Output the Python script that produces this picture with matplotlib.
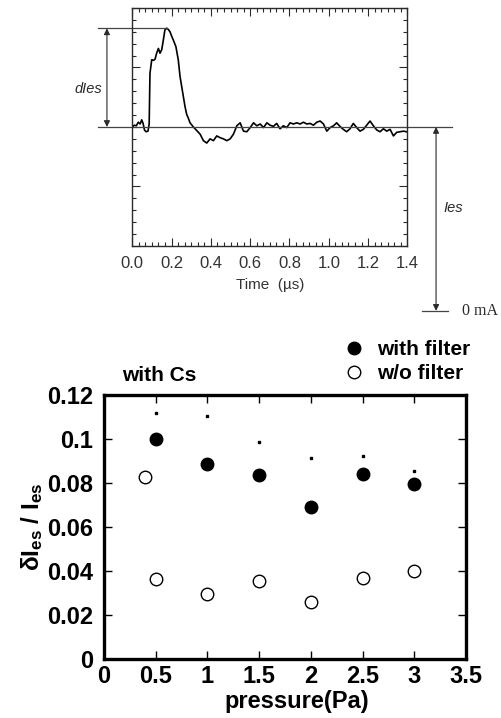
import matplotlib
matplotlib.use("Agg")
import matplotlib.pyplot as plt
from matplotlib.ticker import MultipleLocator, AutoMinorLocator

plt.rcParams["font.family"] = ["Liberation Sans", "DejaVu Sans"]
plt.rcParams["mathtext.fontset"] = "custom"
plt.rcParams["mathtext.bf"] = "Liberation Sans:bold"
plt.rcParams["mathtext.rm"] = "Liberation Sans:bold"
plt.rcParams["mathtext.default"] = "bf"

# --- upper panel: electron saturation current trace (arbitrary divisions) ---
time_us = [
    0.000, 0.010, 0.020, 0.031, 0.040, 0.048, 0.055, 0.062, 0.070, 0.080,
    0.086, 0.090, 0.099, 0.108, 0.116, 0.124, 0.133, 0.141, 0.150, 0.158,
    0.166, 0.175, 0.183, 0.192, 0.200, 0.209, 0.222, 0.234, 0.243, 0.257,
    0.268, 0.277, 0.285, 0.294, 0.311, 0.328, 0.345, 0.362, 0.379, 0.396,
    0.413, 0.430, 0.447, 0.464, 0.481, 0.498, 0.515, 0.532, 0.549, 0.566,
    0.583, 0.600, 0.617, 0.634, 0.651, 0.668, 0.685, 0.701, 0.718, 0.735,
    0.752, 0.769, 0.786, 0.803, 0.820, 0.837, 0.854, 0.871, 0.888, 0.905,
    0.922, 0.939, 0.956, 0.973, 0.990, 1.007, 1.024, 1.040, 1.057, 1.074,
    1.091, 1.108, 1.125, 1.142, 1.159, 1.176, 1.193, 1.210, 1.227, 1.244,
    1.261, 1.278, 1.295, 1.312, 1.329, 1.346, 1.363, 1.380, 1.395,
]
ies_signal = [
    0.00, 0.03, 0.02, 0.08, 0.05, 0.12, 0.06, -0.05, -0.08, -0.07,
    0.05, 0.90, 1.13, 1.12, 1.14, 1.24, 1.32, 1.24, 1.30, 1.46,
    1.63, 1.66, 1.64, 1.60, 1.53, 1.46, 1.35, 1.13, 0.85, 0.57,
    0.35, 0.21, 0.15, 0.07, 0.00, -0.06, -0.12, -0.23, -0.27, -0.20,
    -0.23, -0.15, -0.18, -0.20, -0.23, -0.20, -0.12, 0.02, 0.07, -0.07,
    -0.08, -0.01, 0.07, 0.02, 0.05, -0.01, 0.07, 0.03, 0.01, 0.06,
    -0.03, 0.02, -0.01, 0.07, 0.05, 0.07, 0.05, 0.08, 0.05, 0.06,
    0.03, 0.08, 0.10, 0.05, -0.07, -0.01, 0.02, 0.07, 0.01, -0.04,
    -0.08, -0.03, 0.06, -0.01, -0.07, -0.04, 0.03, 0.10, 0.02, -0.05,
    -0.08, -0.03, -0.07, -0.04, -0.15, -0.09, -0.08, -0.07, -0.08,
]
time_ticks = [0.0, 0.2, 0.4, 0.6, 0.8, 1.0, 1.2, 1.4]
peak_level = 1.657
zero_ma_level = -3.09

# --- lower panel: fluctuation ratio vs pressure ---
pressure_filter = [0.5, 1.0, 1.5, 2.0, 2.5, 3.0]
ratio_filter = [0.100, 0.0886, 0.0835, 0.0691, 0.0842, 0.0794]
ratio_marks = [0.112, 0.1106, 0.0984, 0.0914, 0.0923, 0.0856]
pressure_nofilter = [0.4, 0.5, 1.0, 1.5, 2.0, 2.5, 3.0]
ratio_nofilter = [0.0826, 0.0364, 0.0295, 0.0353, 0.0260, 0.0367, 0.0401]
pressure_ticks = [0, 0.5, 1, 1.5, 2, 2.5, 3, 3.5]
pressure_labels = ["0", "0.5", "1", "1.5", "2", "2.5", "3", "3.5"]
ratio_ticks = [0, 0.02, 0.04, 0.06, 0.08, 0.10, 0.12]
ratio_labels = ["0", "0.02", "0.04", "0.06", "0.08", "0.1", "0.12"]

fig = plt.figure(figsize=(5.02, 7.18), dpi=100)

scan = "#2a2a2a"
ax1 = fig.add_axes([0.2635, 0.6574, 0.548, 0.3315])
ax1.plot(time_us, ies_signal, color="black", lw=1.2)
ax1.set_xlim(0, 1.4)
ax1.set_ylim(-2, 2)
ax1.set_xticks(time_ticks)
ax1.set_xticklabels([f"{t:.1f}" for t in time_ticks])
ax1.xaxis.set_minor_locator(AutoMinorLocator(6))
ax1.yaxis.set_major_locator(MultipleLocator(1))
ax1.yaxis.set_minor_locator(AutoMinorLocator(5))
ax1.tick_params(which="both", direction="in", top=True, right=True,
                labelleft=False, color=scan, width=0.8)
ax1.tick_params(which="major", length=6)
ax1.tick_params(which="minor", length=3)
ax1.tick_params(axis="x", labelsize=12, labelcolor="#333333", pad=7)
for s in ax1.spines.values():
    s.set_color(scan)
    s.set_linewidth(1.0)
ax1.set_xlabel("Time  (µs)", fontsize=11, color="#333333", labelpad=5)

# reference lines and arrows around the trace
ax1.plot([-0.174, 1.628], [0, 0], color="#444444", lw=0.9, clip_on=False)
ax1.plot([-0.174, 0.175], [peak_level, peak_level], color="#444444", lw=0.9, clip_on=False)
ax1.plot([1.474, 1.609], [zero_ma_level, zero_ma_level], color="#444444", lw=0.9, clip_on=False)
arrow = dict(arrowstyle="<|-|>", color=scan, lw=0.8, mutation_scale=9, shrinkA=0, shrinkB=0)
ax1.annotate("", xy=(-0.129, peak_level), xytext=(-0.129, 0), arrowprops=arrow,
             annotation_clip=False)
ax1.annotate("", xy=(1.546, 0), xytext=(1.546, zero_ma_level), arrowprops=arrow,
             annotation_clip=False)
ax1.text(-0.225, 0.645, "dIes", fontsize=10.5, style="italic", color=scan,
         ha="center", va="center", clip_on=False)
ax1.text(1.633, -1.37, "Ies", fontsize=10.5, style="italic", color=scan,
         ha="center", va="center", clip_on=False)
ax1.text(1.677, zero_ma_level, "0 mA", fontsize=11.5, family="Liberation Serif",
         color=scan, ha="left", va="center", clip_on=False)

# lower panel
ax2 = fig.add_axes([0.2072, 0.0822, 0.7211, 0.3677])
ax2.plot(pressure_filter, ratio_filter, "o", color="black", ms=9, label="with filter")
ax2.plot(pressure_nofilter, ratio_nofilter, "o", mfc="white", mec="black", mew=1.0,
         ms=9, label="w/o filter")
ax2.plot(pressure_filter, ratio_marks, "s", color="black", ms=1.6)
ax2.set_xlim(0, 3.5)
ax2.set_ylim(0, 0.12)
ax2.set_xticks(pressure_ticks)
ax2.set_xticklabels(pressure_labels)
ax2.set_yticks(ratio_ticks)
ax2.set_yticklabels(ratio_labels)
ax2.tick_params(direction="in", top=True, right=True, length=6, width=1.0)
ax2.tick_params(axis="x", pad=4)
ax2.tick_params(axis="y", pad=8)
for lab in ax2.get_xticklabels() + ax2.get_yticklabels():
    lab.set_fontsize(17)
    lab.set_fontweight("bold")
for s in ax2.spines.values():
    s.set_linewidth(2.4)
ax2.set_xlabel("pressure(Pa)", fontsize=17, fontweight="bold", labelpad=2)
ax2.xaxis.label.set_x(0.532)
ax2.set_ylabel(r"δI$_{es}$ / I$_{es}$", fontsize=17.5, fontweight="bold", labelpad=1)
ax2.text(0.152, 1.072, "with Cs", transform=ax2.transAxes, fontsize=15,
         fontweight="bold", ha="center", va="center")
ax2.legend(loc="upper left", bbox_to_anchor=(0.6845, 0.5265), bbox_transform=fig.transFigure,
           frameon=False, prop={"size": 15, "weight": "bold"}, handlelength=1.0,
           handletextpad=0.6, labelspacing=0.25, borderpad=0, borderaxespad=0)

fig.savefig("out.png", dpi=100)
